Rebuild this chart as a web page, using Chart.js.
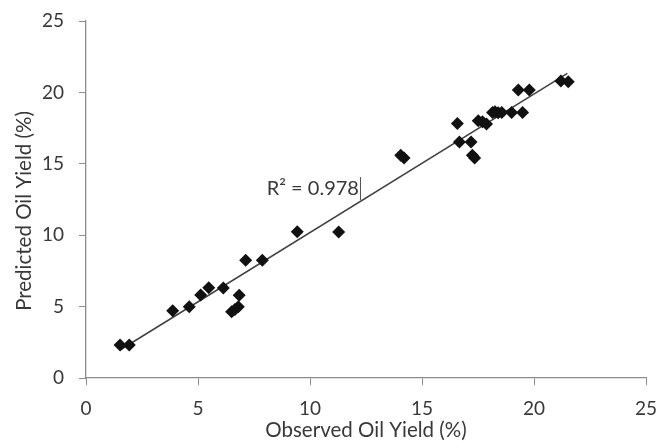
<!DOCTYPE html>
<html><head><meta charset="utf-8">
<script src="https://cdn.jsdelivr.net/npm/chart.js@4/dist/chart.umd.min.js"></script>
<style>html,body{margin:0;padding:0;background:#fff}#wrap{width:660px;height:442px}</style>
</head><body><div id="wrap"><canvas id="c" width="660" height="442"></canvas></div>
<script>
const observed = [1.52,1.93,3.87,4.61,5.12,5.48,6.13,6.84,6.50,6.65,6.80,7.13,7.87,9.43,11.28,14.05,14.2,16.58,16.67,17.19,17.25,17.35,17.51,17.88,17.7,18.15,18.26,18.4,18.56,19.0,19.49,19.3,19.79,21.2,21.53];
const predicted = [2.31,2.31,4.71,4.99,5.81,6.32,6.30,5.79,4.64,4.8,4.99,8.24,8.24,10.25,10.22,15.6,15.4,17.83,16.53,16.53,15.6,15.4,18.02,17.79,17.95,18.6,18.65,18.58,18.6,18.6,18.6,20.17,20.17,20.8,20.75];
const trendX = [1.52, 21.49];
const trendY = [1.96, 21.34];
const tickValues = [0,5,10,15,20,25];
const xTitle = 'Observed Oil Yield (%)';
const yTitle = 'Predicted Oil Yield (%)';
const r2Label = 'R² = 0.978';
const r2Pos = {x: 8.07, y: 13.3};

const FONT = 'Lato, "Open Sans", sans-serif';
const TXT = '#383838';
const AX = '#8c8c8c';

const textPlugin = {
  id: 'texts',
  afterDatasetsDraw(chart) {
    const {ctx, scales, chartArea} = chart;
    ctx.save();
    ctx.fillStyle = TXT;
    const px = scales.x.getPixelForValue(r2Pos.x);
    const py = scales.y.getPixelForValue(r2Pos.y);
    ctx.font = '20px ' + FONT;
    ctx.textAlign = 'left';
    ctx.textBaseline = 'middle';
    ctx.fillText(r2Label, px, py);
    const w = ctx.measureText(r2Label).width;
    ctx.strokeStyle = '#555';
    ctx.lineWidth = 1;
    ctx.beginPath();
    ctx.moveTo(Math.round(px + w + 1) + 0.5, py - 11);
    ctx.lineTo(Math.round(px + w + 1) + 0.5, py + 12);
    ctx.stroke();
    ctx.font = '20.5px ' + FONT;
    ctx.textAlign = 'center';
    ctx.textBaseline = 'middle';
    ctx.fillText(xTitle, (chartArea.left + chartArea.right) / 2, 430);
    ctx.translate(24, 211);
    ctx.rotate(-Math.PI / 2);
    ctx.fillText(yTitle, 0, 0);
    ctx.restore();
  }
};

const noPad = s => { s.paddingLeft = 0; s.paddingRight = 0; s.paddingTop = 0; s.paddingBottom = 0; };

const pts = observed.map((v, i) => ({x: v, y: predicted[i]}));
const line = trendX.map((v, i) => ({x: v, y: trendY[i]}));

new Chart(document.getElementById('c'), {
  type: 'scatter',
  data: {
    datasets: [
      {data: line, showLine: true, borderColor: '#404040', borderWidth: 1.5, pointRadius: 0, fill: false, order: 2},
      {data: pts, pointStyle: 'rectRot', pointRadius: 6.5, backgroundColor: '#111', borderColor: '#111', borderWidth: 0, order: 1}
    ]
  },
  options: {
    responsive: false,
    animation: false,
    layout: {padding: {top: 21, right: 14, left: 0, bottom: 0}},
    plugins: {legend: {display: false}, tooltip: {enabled: false}},
    scales: {
      x: {
        type: 'linear', min: 0, max: 25,
        afterBuildTicks: s => { s.ticks = tickValues.map(v => ({value: v})); },
        afterFit: s => { s.height = 64; noPad(s); },
        grid: {drawOnChartArea: false, drawTicks: true, tickLength: 7, color: AX},
        border: {color: AX, width: 1.3},
        ticks: {color: TXT, font: {family: FONT, size: 19}, padding: 12},
        title: {display: false}
      },
      y: {
        type: 'linear', min: 0, max: 25,
        afterBuildTicks: s => { s.ticks = tickValues.map(v => ({value: v})); },
        afterFit: s => { s.width = 86; noPad(s); },
        grid: {drawOnChartArea: false, drawTicks: true, tickLength: 7, color: AX},
        border: {color: AX, width: 1.3},
        ticks: {color: TXT, font: {family: FONT, size: 19}, padding: 15},
        title: {display: false}
      }
    }
  },
  plugins: [textPlugin]
});
</script></body></html>
